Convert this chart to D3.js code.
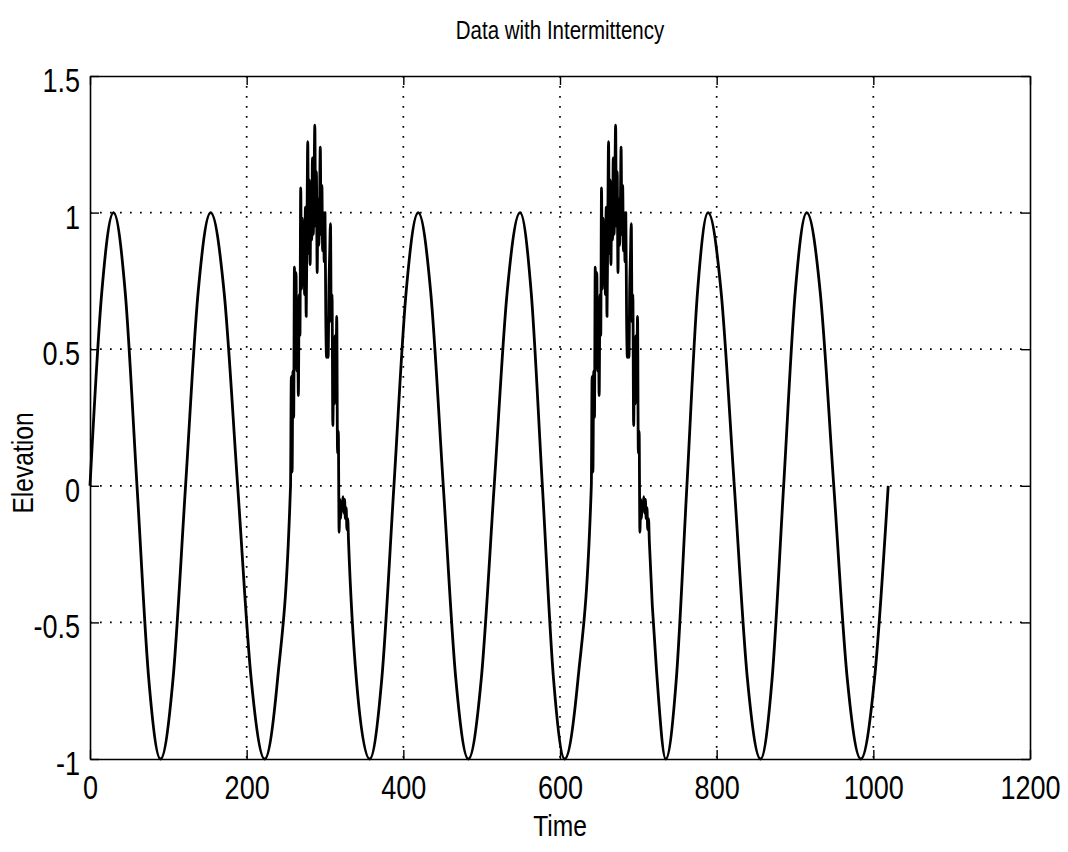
<!DOCTYPE html>
<html>
<head>
<meta charset="utf-8">
<script src="https://cdn.jsdelivr.net/npm/d3@7/dist/d3.min.js"></script>
<style>
  html, body { margin: 0; padding: 0; background: #fff; }
  svg { display: block; }
  text { font-family: "Liberation Sans", Arial, Helvetica, sans-serif; fill: #000; }
</style>
</head>
<body>
<svg id="chart" width="1068" height="852"></svg>
<script>
// ---- data ----
const title = "Data with Intermittency";
const xLabel = "Time";
const yLabel = "Elevation";
const xTicks = [0, 200, 400, 600, 800, 1000, 1200];
const yTicks = [-1, -0.5, 0, 0.5, 1, 1.5];
const yTickLabels = ["-1", "-0.5", "0", "0.5", "1", "1.5"];

const time = [
  0, 15, 30, 45, 60, 75, 90, 106, 122, 138, 154, 171.25, 188.5, 205.75, 223, 239.5,
  256, 257, 258, 259, 260, 261, 262, 263, 264, 265, 266, 267, 268, 269, 270, 271, 272, 273, 274, 275,
  276, 277, 278, 279, 280, 281, 282, 283, 284, 285, 286, 287, 288, 289, 290, 291, 292, 293, 294, 295,
  296, 297, 298, 299, 300, 301, 302, 303, 304, 305, 306, 307, 308, 309, 310, 311, 312, 313, 314, 315,
  316, 317, 318, 319, 320, 321, 322, 323, 324, 325, 326, 327, 328, 329, 330,
  340, 357, 372.5, 388, 403.5, 419, 435, 451, 467, 483, 499.5, 516, 532.5, 549, 563.25, 577.5, 591.75, 606, 623,
  640, 641, 642, 643, 644, 645, 646, 647, 648, 649, 650, 651, 652, 653, 654, 655, 656, 657, 658, 659,
  660, 661, 662, 663, 664, 665, 666, 667, 668, 669, 670, 671, 672, 673, 674, 675, 676, 677, 678, 679,
  680, 681, 682, 683, 684, 685, 686, 687, 688, 689, 690, 691, 692, 693, 694, 695, 696, 697, 698, 699,
  700, 701, 702, 703, 704, 705, 706, 707, 708, 709, 710, 711, 712, 713, 714,
  724, 735, 748.5, 762, 775.5, 789, 805.75, 822.5, 839.25, 856, 870.75, 885.5, 900.25, 915, 932.25, 949.5, 966.75, 984, 1001.5, 1019
];

const elevation = [
  0, 0.707, 1, 0.707, 0, -0.707, -1, -0.707, 0, 0.707, 1, 0.707, 0, -0.707, -1, -0.707,
  0.00, 0.40, 0.05, 0.42, 0.25, 0.80, 0.50, 0.78, 0.42, 0.62,
  0.33, 0.70, 0.55, 1.09, 0.72, 0.98, 0.76, 0.90, 0.70, 1.02,
  0.62, 0.95, 1.26, 0.85, 1.12, 0.81, 1.05, 0.90, 1.20, 0.92,
  1.10, 1.32, 0.95, 1.15, 0.78, 1.05, 0.88, 1.00, 1.24, 0.92,
  1.10, 0.86, 1.00, 0.82, 1.00, 0.62, 0.47, 0.58, 0.47, 0.72,
  0.85, 0.96, 0.60, 0.70, 0.22, 0.40, 0.30, 0.55, 0.40, 0.62,
  0.12, 0.20, -0.17, -0.05, -0.12, -0.06, -0.08, -0.04, -0.10, -0.05,
  -0.12, -0.08, -0.16, -0.12, -0.20,
  -0.707, -1, -0.707, 0, 0.707, 1, 0.707, 0, -0.707, -1, -0.707, 0, 0.707, 1, 0.707, 0, -0.707, -1, -0.707,
  0.00, 0.40, 0.05, 0.42, 0.25, 0.80, 0.50, 0.78, 0.42, 0.62,
  0.33, 0.70, 0.55, 1.09, 0.72, 0.98, 0.76, 0.90, 0.70, 1.02,
  0.62, 0.95, 1.26, 0.85, 1.12, 0.81, 1.05, 0.90, 1.20, 0.92,
  1.10, 1.32, 0.95, 1.15, 0.78, 1.05, 0.88, 1.00, 1.24, 0.92,
  1.10, 0.86, 1.00, 0.82, 1.00, 0.62, 0.47, 0.58, 0.47, 0.72,
  0.85, 0.96, 0.60, 0.70, 0.22, 0.40, 0.30, 0.55, 0.40, 0.62,
  0.12, 0.20, -0.17, -0.05, -0.12, -0.06, -0.08, -0.04, -0.10, -0.05,
  -0.12, -0.08, -0.16, -0.12, -0.20,
  -0.707, -1, -0.707, 0, 0.707, 1, 0.707, 0, -0.707, -1, -0.707, 0, 0.707, 1, 0.707, 0, -0.707, -1, -0.707, 0
];

// ---- layout ----
const mLeft = 90, mRight = 1030, mTop = 76, mBottom = 759;
const narrow = 0.82; // horizontal condensation of the scanned Helvetica-like font
const svg = d3.select("#chart");
svg.append("rect").attr("width", 1068).attr("height", 852).attr("fill", "#fff");

const x = d3.scaleLinear().domain([0, 1200]).range([mLeft, mRight]);
const y = d3.scaleLinear().domain([-1, 1.5]).range([mBottom, mTop]);

// grid (dotted)
const grid = svg.append("g").attr("stroke", "#000").attr("stroke-width", 1.7)
  .attr("stroke-dasharray", "1.7 8.3").attr("fill", "none");
grid.selectAll("line.gx").data(xTicks.slice(1, -1)).join("line")
  .attr("class", "gx")
  .attr("x1", d => x(d)).attr("x2", d => x(d))
  .attr("y1", mTop).attr("y2", mBottom);
grid.selectAll("line.gy").data(yTicks.slice(1, -1)).join("line")
  .attr("class", "gy")
  .attr("x1", mLeft).attr("x2", mRight)
  .attr("y1", d => y(d)).attr("y2", d => y(d));

// data line
const line = d3.line()
  .x((d, i) => x(time[i]))
  .y(d => y(d))
  .curve(d3.curveMonotoneX);
svg.append("path")
  .attr("d", line(elevation))
  .attr("fill", "none")
  .attr("stroke", "#000")
  .attr("stroke-width", 2.8)
  .attr("stroke-linejoin", "round");

// axes (inward ticks on all four sides)
const tickLen = 9;
const gx = svg.append("g").attr("transform", `translate(0,${mBottom})`)
  .call(d3.axisBottom(x).tickValues(xTicks).tickFormat(d3.format("d"))
    .tickSizeInner(-tickLen).tickSizeOuter(0).tickPadding(17));
const gy = svg.append("g").attr("transform", `translate(${mLeft},0)`)
  .call(d3.axisLeft(y).tickValues(yTicks).tickFormat((d, i) => yTickLabels[i])
    .tickSizeInner(-tickLen).tickSizeOuter(0).tickPadding(10));
svg.append("g").attr("transform", `translate(0,${mTop})`)
  .call(d3.axisTop(x).tickValues(xTicks).tickFormat("")
    .tickSizeInner(-tickLen).tickSizeOuter(0));
svg.append("g").attr("transform", `translate(${mRight},0)`)
  .call(d3.axisRight(y).tickValues(yTicks).tickFormat("")
    .tickSizeInner(-tickLen).tickSizeOuter(0));

svg.selectAll(".domain").attr("stroke", "#000").attr("stroke-width", 1.6);
svg.selectAll(".tick line").attr("stroke", "#000").attr("stroke-width", 1.4);
gx.selectAll("text")
  .attr("font-size", 33).attr("font-family", "Liberation Sans, Arial, sans-serif")
  .attr("transform", `scale(${narrow},1)`);
gy.selectAll("text")
  .attr("font-size", 33).attr("font-family", "Liberation Sans, Arial, sans-serif")
  .attr("x", -10 / narrow).attr("y", 5)
  .attr("transform", `scale(${narrow},1)`);

// titles
svg.append("text")
  .attr("transform", `translate(${(mLeft + mRight) / 2},39) scale(${narrow},1)`)
  .attr("text-anchor", "middle").attr("font-size", 25)
  .text(title);
svg.append("text")
  .attr("transform", `translate(${(mLeft + mRight) / 2},836) scale(${narrow},1)`)
  .attr("text-anchor", "middle").attr("font-size", 30)
  .text(xLabel);
svg.append("text")
  .attr("transform", `translate(33,463) rotate(-90) scale(${narrow},1)`)
  .attr("text-anchor", "middle").attr("font-size", 30)
  .text(yLabel);
</script>
</body>
</html>
